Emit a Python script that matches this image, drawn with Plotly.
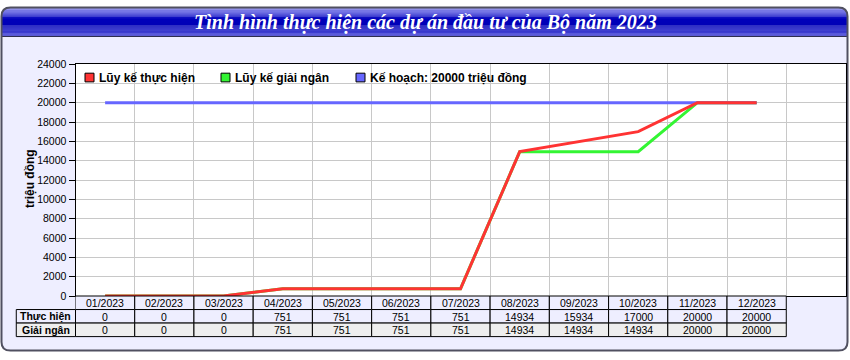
import math
import plotly.graph_objects as go

# ---------------- data ----------------
months = ["01/2023", "02/2023", "03/2023", "04/2023", "05/2023", "06/2023",
          "07/2023", "08/2023", "09/2023", "10/2023", "11/2023", "12/2023"]
thuc_hien = [0, 0, 0, 751, 751, 751, 751, 14934, 15934, 17000, 20000, 20000]
giai_ngan = [0, 0, 0, 751, 751, 751, 751, 14934, 14934, 14934, 20000, 20000]
ke_hoach = [20000, 20000, 20000, 20000, 20000, 20000, 20000, 20000, 20000, 20000, 20000, 20000]
series_names = ["Lũy kế thực hiện", "Lũy kế giải ngân", "Kế hoạch: 20000 triệu đồng"]
row_labels = ["Thực hiện", "Giải ngân"]
y_ticks = [0, 2000, 4000, 6000, 8000, 10000, 12000, 14000, 16000, 18000, 20000, 22000, 24000]
chart_title = "Tình hình thực hiện các dự án đầu tư của Bộ năm 2023"
y_title = "triệu đồng"

# ---------------- styling ----------------
RED, GREEN, BLUE = "#FF3333", "#33F533", "#6666FF"
BG = "#EEEEFF"
ROW_GRAY = "#EEEEEE"
SANS = "Liberation Sans, Arial, sans-serif"
SERIF = "Liberation Serif, Times New Roman, serif"
W, H = 850, 360


def X(px):
    return px / W


def Y(py):
    return 1 - py / H


def rounded_path(x0, y0, x1, y1, r):
    p = lambda x, y: f"{X(x):.5f},{Y(y):.5f}"
    s = f"M{p(x0 + r, y0)} L{p(x1 - r, y0)} Q{p(x1, y0)} {p(x1, y0 + r)} "
    s += (f"L{p(x1, y1 - r)} Q{p(x1, y1)} {p(x1 - r, y1)} "
          f"L{p(x0 + r, y1)} Q{p(x0, y1)} {p(x0, y1 - r)} ")
    s += f"L{p(x0, y0 + r)} Q{p(x0, y0)} {p(x0 + r, y0)} Z"
    return s


fig = go.Figure()

# traces (green, blue below red)
fig.add_trace(go.Scatter(x=months, y=giai_ngan, mode="lines", name=series_names[1],
                         line=dict(color=GREEN, width=3), hoverinfo="x+y+name"))
fig.add_trace(go.Scatter(x=months, y=ke_hoach, mode="lines", name=series_names[2],
                         line=dict(color=BLUE, width=3), hoverinfo="x+y+name"))
fig.add_trace(go.Scatter(x=months, y=thuc_hien, mode="lines", name=series_names[0],
                         line=dict(color=RED, width=3), hoverinfo="x+y+name"))

shapes = []
annotations = []

# outer frame
FX0, FY0, FX1, FY1, FR = 1.5, 1.5, 847.5, 356.5, 9
shapes.append(dict(type="path", xref="paper", yref="paper", layer="below",
                   path=rounded_path(FX0, FY0, FX1, FY1, FR),
                   fillcolor=BG, line=dict(width=0)))

# title bar gradient (glossy)
stops = [(1.5, (130, 130, 220)), (4, (110, 110, 228)), (7, (80, 80, 220)),
         (11, (20, 20, 196)), (14, (0, 0, 186)), (20, (0, 0, 182)),
         (31, (50, 50, 210))]


def col_at(y):
    for (ya, ca), (yb, cb) in zip(stops, stops[1:]):
        if ya <= y <= yb:
            t = (y - ya) / (yb - ya)
            c = [round(ca[k] + t * (cb[k] - ca[k])) for k in range(3)]
            return "rgb(%d,%d,%d)" % tuple(c)
    return "rgb(%d,%d,%d)" % stops[-1][1]


y = FY0
while y < 31:
    y2 = min(y + 1, 31)
    ym = (y + y2) / 2
    d = ym - FY0
    inset = FR - math.sqrt(max(FR ** 2 - (FR - d) ** 2, 0)) if d < FR else 0
    shapes.append(dict(type="rect", xref="paper", yref="paper", layer="below",
                       x0=X(FX0 + inset), x1=X(FX1 - inset), y0=Y(y2 + 0.05), y1=Y(y),
                       fillcolor=col_at(ym), line=dict(width=0)))
    y = y2
shapes.append(dict(type="line", xref="paper", yref="paper", layer="below",
                   x0=X(FX0), x1=X(FX1), y0=Y(31.5), y1=Y(31.5),
                   line=dict(color="#222244", width=1)))
# frame border
shapes.append(dict(type="path", xref="paper", yref="paper", layer="below",
                   path=rounded_path(FX0, FY0, FX1, FY1, FR),
                   fillcolor="rgba(0,0,0,0)", line=dict(color="#505060", width=2)))
# white plot area
shapes.append(dict(type="rect", xref="x domain", yref="y domain", layer="below",
                   x0=0, x1=1, y0=0, y1=1, fillcolor="white", line=dict(width=0)))

# title
annotations.append(dict(text=f"<b><i>{chart_title}</i></b>", xref="paper", yref="paper",
                        x=0.5, y=Y(17), xanchor="center", yanchor="middle", showarrow=False,
                        font=dict(family=SERIF, size=20, color="white")))

# y title
annotations.append(dict(text=f"<b>{y_title}</b>", xref="paper", yref="paper",
                        x=X(30), y=Y(179), textangle=-90, showarrow=False,
                        xanchor="center", yanchor="middle",
                        font=dict(family=SANS, size=12, color="black")))

# legend (custom squares + text)
legend_items = [(series_names[0], RED, 85), (series_names[1], GREEN, 221), (series_names[2], BLUE, 356)]
for name, color, lx in legend_items:
    shapes.append(dict(type="rect", xref="paper", yref="paper", layer="above",
                       x0=X(lx), x1=X(lx + 9), y0=Y(78.5), y1=Y(69.5),
                       fillcolor=color, line=dict(color="black", width=1)))
    annotations.append(dict(text=f"<b>{name}</b>", xref="paper", yref="paper",
                            x=X(lx + 12), y=Y(74), xanchor="left", yanchor="middle",
                            showarrow=False, font=dict(family=SANS, size=12, color="black")))

# data table
row_tops = [300, 314, 328, 342]
row_values = [thuc_hien, giai_ngan]
row_fills = [BG, ROW_GRAY]
NRANGE = 13
TFONT = dict(family=SANS, size=10.5, color="black")
for i, m in enumerate(months):
    # header
    shapes.append(dict(type="rect", xref="x", yref="paper", layer="above",
                       x0=i - 0.5, x1=i + 0.5, y0=Y(row_tops[1]), y1=Y(row_tops[0]),
                       fillcolor=BG, line=dict(color="black", width=1)))
    annotations.append(dict(text=m, xref="x", yref="paper", x=i,
                            y=Y((row_tops[0] + row_tops[1]) / 2 + 0.5),
                            showarrow=False, xanchor="center", yanchor="middle", font=TFONT))
    for r, vals in enumerate(row_values):
        shapes.append(dict(type="rect", xref="x", yref="paper", layer="above",
                           x0=i - 0.5, x1=i + 0.5, y0=Y(row_tops[r + 2]), y1=Y(row_tops[r + 1]),
                           fillcolor=row_fills[r], line=dict(color="black", width=1)))
        annotations.append(dict(text=str(vals[i]), xref="x", yref="paper", x=i,
                                y=Y((row_tops[r + 1] + row_tops[r + 2]) / 2 + 0.5),
                                showarrow=False, xanchor="center", yanchor="middle", font=TFONT))
for r, lab in enumerate(row_labels):
    shapes.append(dict(type="rect", xref="x domain", yref="paper", layer="above",
                       x0=-1 / NRANGE, x1=0, y0=Y(row_tops[r + 2]), y1=Y(row_tops[r + 1]),
                       fillcolor=row_fills[r], line=dict(color="black", width=1)))
    annotations.append(dict(text=f"<b>{lab}</b>", xref="x domain", yref="paper", x=-0.5 / NRANGE,
                            y=Y((row_tops[r + 1] + row_tops[r + 2]) / 2 + 0.5),
                            showarrow=False, xanchor="center", yanchor="middle",
                            font=dict(family=SANS, size=10.5, color="black")))

fig.update_layout(
    width=W, height=H,
    margin=dict(l=0, r=0, t=0, b=0),
    paper_bgcolor="white",
    plot_bgcolor="white",
    showlegend=False,
    shapes=shapes,
    annotations=annotations,
    xaxis=dict(domain=[X(75.5), X(845.5)], type="category", categoryorder="array",
               categoryarray=months, range=[-0.5, 12.5], tickson="boundaries",
               showgrid=True, gridcolor="#C8C8C8", gridwidth=1, showticklabels=False,
               ticks="", showline=True, linecolor="black", linewidth=1, mirror=True,
               zeroline=False, fixedrange=True),
    yaxis=dict(domain=[Y(300), Y(60)], range=[0, 24000], tickvals=y_ticks,
               ticktext=[str(v) for v in y_ticks],
               showgrid=True, gridcolor="#C8C8C8", gridwidth=1,
               ticks="outside", ticklen=6, tickcolor="black", tickwidth=1,
               showline=True, linecolor="black", linewidth=1, mirror=True,
               zeroline=False, fixedrange=True,
               tickfont=dict(family=SANS, size=10.5, color="black")),
)

fig.write_html("out.html", config={"displayModeBar": False},
               post_script="document.body.style.margin='0px';document.body.style.overflow='hidden';")
